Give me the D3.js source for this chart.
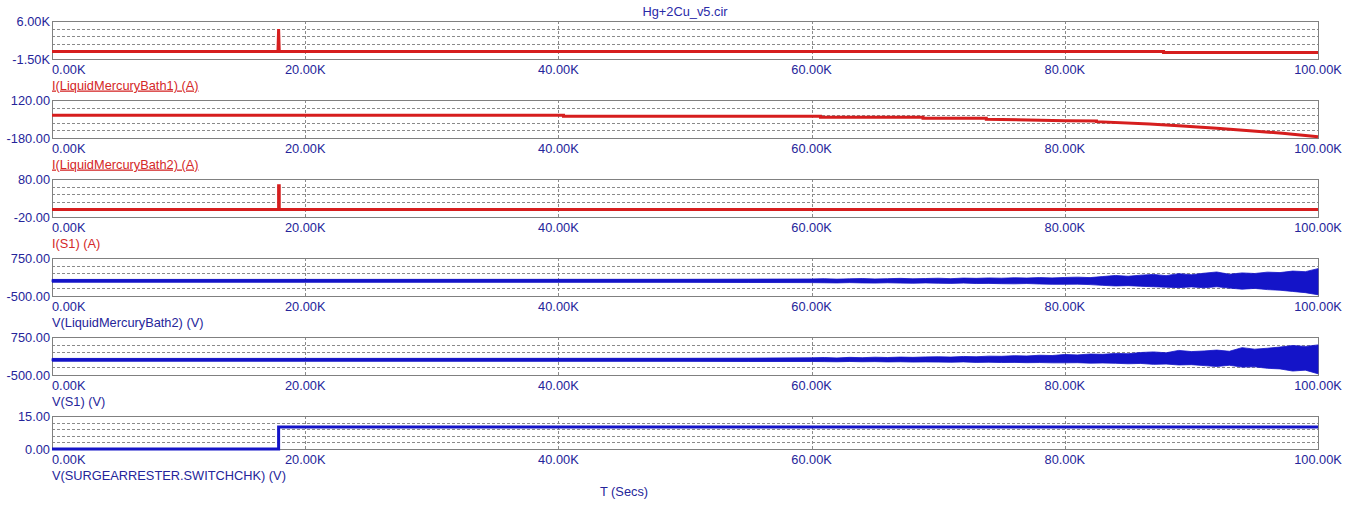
<!DOCTYPE html>
<html><head><meta charset="utf-8">
<script src="https://cdn.jsdelivr.net/npm/d3@7"></script>
<style>
html,body{margin:0;padding:0;background:#fff;}
text{font-family:"Liberation Sans",Arial,sans-serif;font-size:12.8px;}
</style></head>
<body><svg id="c" width="1353" height="513"></svg>
<script>
const title = "Hg+2Cu_v5.cir";
const xTicks = [0, 20000, 40000, 60000, 80000, 100000];
const xLabel = "T (Secs)";

const seriesNames = ["I(LiquidMercuryBath1) (A)", "I(LiquidMercuryBath2) (A)", "I(S1) (A)",
  "V(LiquidMercuryBath2) (V)", "V(S1) (V)", "V(SURGEARRESTER.SWITCHCHK) (V)"];
const yMin = [-1500, -180, -20, -500, -500, 0];
const yMax = [6000, 120, 80, 750, 750, 15];
const yLabelMin = ["-1.50K", "-180.00", "-20.00", "-500.00", "-500.00", "0.00"];
const yLabelMax = ["6.00K", "120.00", "80.00", "750.00", "750.00", "15.00"];
const kinds = ["I", "I", "I", "V", "V", "V"];
const underlined = [true, true, false, false, false, false];

// traces: [time, value]
const bath1 = [[0,0],[17850,0],[17900,4400],[17950,0],[87800,0],[87800,-200],[100000,-200]];
const bath2 = [[0,0],[40400,0],[40400,-9],[60700,-9],[60700,-17],[68800,-17],[68800,-24],[73800,-24],
  [73800,-32],[80000,-43],[82500,-45],[82500,-51],[86700,-69],[89300,-85],[92000,-103],[94600,-122],[97200,-143],[100000,-170]];
const s1Current = [[0,0],[17900,0],[17900,62],[17950,62],[17950,0],[100000,0]];
const vBath2 = [[0,0],[100000,0]];
const vS1 = [[0,0],[100000,0]];
const vSwitch = [[0,0],[17900,0],[17900,10],[100000,10]];

// noise envelope (time in K, upper, lower)
const envTime = [0,50,55,60,61,62,63,64,65,66,67,68,69,70,71,72,73,74,75,76,77,78,79,80,81,82,83,84,85,86,87,88,89,90,91,92,93,94,95,96,97,98,99,100];
const vBath2Upper = [45,50,55,60,70,55,65,75,60,70,80,65,75,85,70,90,80,95,85,100,90,105,95,110,120,105,140,175,150,185,210,170,235,200,250,290,215,260,240,285,270,320,300,400];
const vBath2Lower = [-45,-50,-55,-60,-65,-70,-60,-70,-75,-65,-75,-80,-70,-80,-85,-75,-90,-85,-95,-100,-90,-105,-115,-115,-110,-125,-150,-170,-160,-180,-195,-210,-225,-200,-230,-195,-240,-275,-250,-290,-310,-350,-390,-460];
const vS1Upper = [45,50,55,65,75,60,80,70,85,75,90,80,95,100,90,110,100,120,115,135,125,150,140,175,160,190,180,210,200,240,260,230,310,270,290,320,280,400,350,380,420,470,440,490];
const vS1Lower = [-45,-50,-55,-55,-60,-65,-55,-65,-60,-70,-65,-75,-70,-75,-80,-70,-85,-80,-90,-85,-95,-90,-100,-100,-95,-110,-105,-115,-130,-120,-150,-140,-170,-160,-190,-220,-180,-240,-230,-280,-300,-370,-340,-460];

const traces = [bath1, bath2, s1Current, vBath2, vS1, vSwitch];
const envelopes = [null, null, null, [vBath2Upper, vBath2Lower], [vS1Upper, vS1Lower], null];

const panelTop = [21, 100, 179, 258, 337, 416];
const panelH = [38, 38, 38, 38, 38, 33];
const left = 52, right = 1318;
const RED = "#d61e1e", BLUE = "#1414c8", NAVY = "#25259a", LRED = "#d42828";

const svg = d3.select("#c");
const x = d3.scaleLinear().domain([0, 100000]).range([left, right]);

svg.append("text").attr("x", 685).attr("y", 16).attr("text-anchor", "middle").attr("fill", "#2a2aa8").text(title);

for (let i = 0; i < 6; i++) {
  const top = panelTop[i], bot = top + panelH[i];
  const y = d3.scaleLinear().domain([yMin[i], yMax[i]]).range([bot, top]);
  const g = svg.append("g");
  const step = (yMax[i] - yMin[i]) / 5;
  const hVals = [1,2,3,4].map(k => yMin[i] + k * step);
  g.selectAll(".hg").data(hVals).join("line")
    .attr("x1", left).attr("x2", right).attr("y1", d => Math.round(y(d)) + 0.5).attr("y2", d => Math.round(y(d)) + 0.5)
    .attr("stroke", "#8a8a8a").attr("stroke-width", 1).attr("stroke-dasharray", "3,2");
  g.selectAll(".vg").data(xTicks.slice(1, 5)).join("line")
    .attr("x1", d => Math.round(x(d)) + 0.5).attr("x2", d => Math.round(x(d)) + 0.5).attr("y1", top).attr("y2", bot)
    .attr("stroke", "#8a8a8a").attr("stroke-width", 1).attr("stroke-dasharray", "3,2");
  g.append("rect").attr("x", left + 0.5).attr("y", top + 0.5).attr("width", right - left).attr("height", bot - top)
    .attr("fill", "none").attr("stroke", "#808080").attr("stroke-width", 1);

  const col = kinds[i] === "I" ? RED : BLUE;
  if (envelopes[i]) {
    const [up, lo] = envelopes[i];
    const pts = envTime.map((t, k) => [t * 1000, up[k], lo[k]]);
    g.append("path").datum(pts)
      .attr("d", d3.area().x(d => x(d[0])).y0(d => y(d[2])).y1(d => y(d[1])))
      .attr("fill", col).attr("stroke", col).attr("stroke-width", 0.8);
  }
  g.append("path").datum(traces[i])
    .attr("d", d3.line().x(d => x(d[0])).y(d => y(d[1])))
    .attr("fill", "none").attr("stroke", col).attr("stroke-width", 3);

  // y labels
  g.append("text").attr("x", 50).attr("y", top + 4.5).attr("text-anchor", "end").attr("fill", NAVY).text(yLabelMax[i]);
  g.append("text").attr("x", 50).attr("y", bot + 5).attr("text-anchor", "end").attr("fill", NAVY).text(yLabelMin[i]);
  // x labels
  g.selectAll(".xl").data(xTicks).join("text")
    .attr("x", d => d === 0 ? left : x(d)).attr("y", bot + 14.5)
    .attr("text-anchor", d => d === 0 ? "start" : "middle").attr("fill", NAVY)
    .text(d => (d / 1000).toFixed(2) + "K");
  // series label
  g.append("text").attr("x", left).attr("y", bot + 30.5)
    .attr("fill", kinds[i] === "I" ? LRED : NAVY)
    .attr("text-decoration", underlined[i] ? "underline" : null)
    .text(seriesNames[i]);
}
svg.append("text").attr("x", 624).attr("y", 496).attr("text-anchor", "middle").attr("fill", NAVY).text(xLabel);
</script></body></html>
